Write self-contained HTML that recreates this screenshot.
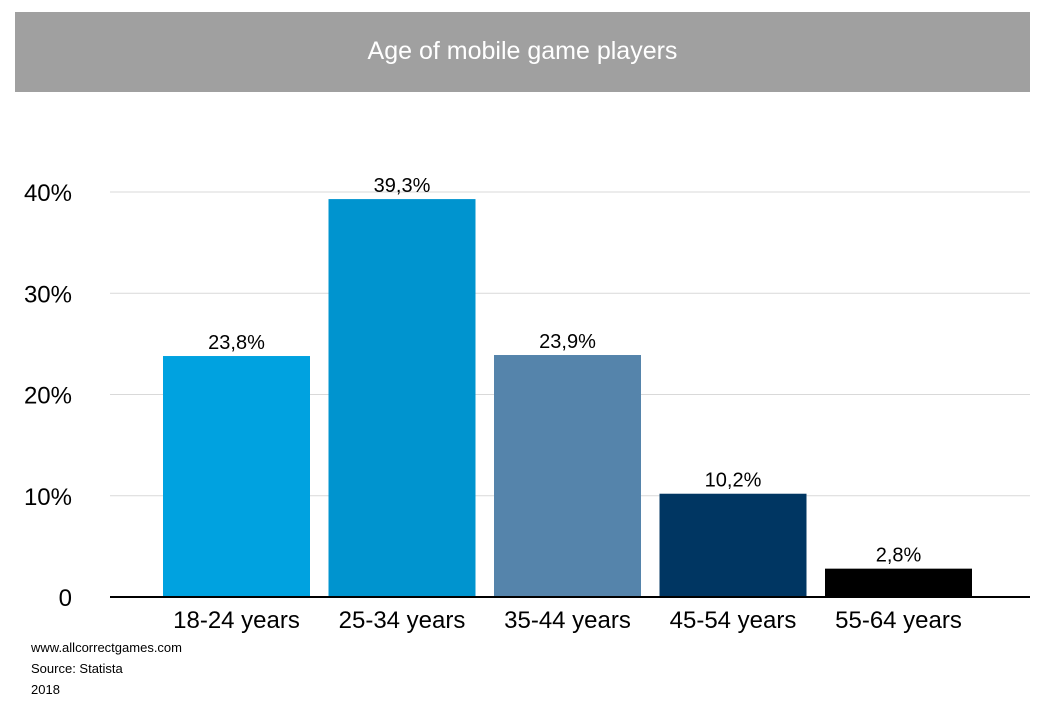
<!DOCTYPE html>
<html><head><meta charset="utf-8"><style>
body{margin:0;background:#fff;width:1046px;height:710px;overflow:hidden;font-family:"Liberation Sans",sans-serif}
#title{position:absolute;left:15px;top:12px;width:1015px;height:80px;background:#a0a0a0;color:#fff;font-size:25px;text-align:center;line-height:78px}
.foot{position:absolute;left:31px;font-family:"Liberation Sans Narrow","Liberation Sans",sans-serif;font-size:13px;color:#000}
</style></head><body>
<div id="title">Age of mobile game players</div>
<svg id="chart" width="1046" height="710" style="position:absolute;left:0;top:0"></svg>
<div class="foot" style="top:640px">www.allcorrectgames.com</div>
<div class="foot" style="top:661px">Source: Statista</div>
<div class="foot" style="top:682px">2018</div>
<script>
const categories=["18-24 years","25-34 years","35-44 years","45-54 years","55-64 years"];
const values=[23.8,39.3,23.9,10.2,2.8];
const valueLabels=["23,8%","39,3%","23,9%","10,2%","2,8%"];
const colors=["#00a2e0","#0094cf","#5584ab","#003662","#000000"];
const ticks=[0,10,20,30,40];
const tickLabels=["0","10%","20%","30%","40%"];
const svg=document.getElementById('chart');
const NS="http://www.w3.org/2000/svg";
const y0=597,pxPer=10.125,x0=153.75,band=165.5,bw=147;
const y=v=>y0-v*pxPer;
const x=i=>x0+i*band;
function mk(t,a){const e=document.createElementNS(NS,t);for(const k in a)e.setAttribute(k,a[k]);svg.appendChild(e);return e;}
ticks.forEach((t,i)=>{
 if(t>0){const g=mk('line',{x1:110,x2:1030,y1:y(t),y2:y(t),stroke:'#d9d9d9','stroke-width':1});
 
 }
 const l=mk('text',{x:72,y:y(t)+9,'text-anchor':'end','font-size':24,fill:'#000'});
 l.textContent=tickLabels[i];
 
 
});
values.forEach((v,i)=>{
 const r=mk('rect',{x:x(i)+(band-bw)/2,y:y(v),width:bw,height:y0-y(v),fill:colors[i]});
 
 
 const t=mk('text',{x:x(i)+band/2,y:y(v)-7,'text-anchor':'middle','font-size':20,fill:'#000'});
 t.textContent=valueLabels[i];
 
 
 const c=mk('text',{x:x(i)+band/2,y:628,'text-anchor':'middle','font-size':24,fill:'#000'});
 c.textContent=categories[i];
 
 
});
const ax=mk('line',{x1:110,x2:1030,y1:y0,y2:y0,stroke:'#000','stroke-width':2});


</script>
</body></html>
